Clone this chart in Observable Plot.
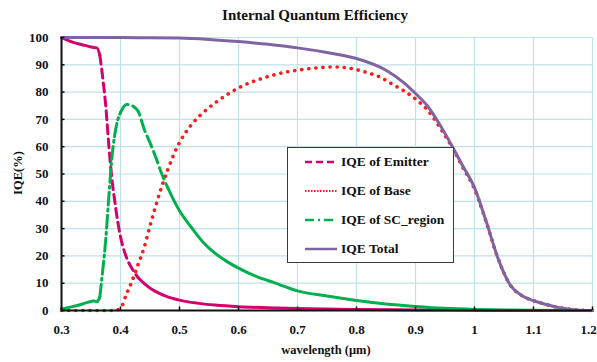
<!DOCTYPE html>
<html>
<head>
<meta charset="utf-8">
<script src="https://cdn.jsdelivr.net/npm/d3@7"></script>
<script src="https://cdn.jsdelivr.net/npm/@observablehq/plot@0.6"></script>
<style>
  html, body { margin: 0; padding: 0; background: #fff; }
  #wrap { position: relative; width: 597px; height: 362px; font-family: "Liberation Serif", "Times New Roman", serif; font-weight: bold; color: #111; }
  .lbl { position: absolute; white-space: nowrap; }
  #legend { position: absolute; background: #fff; border: 1px solid #3a3a3a; box-sizing: border-box; }
  .row { position: absolute; left: 0; display: flex; align-items: center; }
</style>
</head>
<body>
<div id="wrap"></div>
<script>
// ---- data ----
const titleText = "Internal Quantum Efficiency";
const xLabel = "wavelength (μm)";
const yLabel = "IQE(%)";
const xTicks = [0.3, 0.4, 0.5, 0.6, 0.7, 0.8, 0.9, 1.0, 1.1, 1.2];
const xTickLabels = ["0.3", "0.4", "0.5", "0.6", "0.7", "0.8", "0.9", "1", "1.1", "1.2"];
const yTicks = [0, 10, 20, 30, 40, 50, 60, 70, 80, 90, 100];

const seriesNames = ["IQE of Emitter", "IQE of Base", "IQE of SC_region", "IQE Total"];

const emitterX = [0.30,0.31,0.32,0.33,0.34,0.35,0.355,0.36,0.365,0.37,0.375,0.38,0.385,0.39,0.395,0.40,0.41,0.42,0.43,0.44,0.45,0.46,0.48,0.50,0.53,0.56,0.60,0.65,0.70,0.80,0.90,1.00,1.10,1.20];
const emitterY = [100,99,98.2,97.6,97.1,96.5,96.3,96.2,93.5,85,75,61,49,40.5,33,27,19.5,15.2,12,9.9,8.2,6.9,5,3.8,2.7,2,1.4,1,0.7,0.4,0.2,0.1,0,0];

const baseX = [0.30,0.35,0.39,0.40,0.41,0.42,0.43,0.44,0.45,0.46,0.47,0.48,0.49,0.50,0.52,0.54,0.56,0.58,0.60,0.62,0.64,0.66,0.68,0.70,0.72,0.74,0.76,0.78,0.80,0.82,0.84,0.86,0.88,0.90,0.92,0.94,0.96,0.98,1.00,1.02,1.04,1.06,1.08,1.10,1.12,1.14,1.16,1.18,1.20];
const baseY = [0,0,0,0.8,6,11,17,23,31,38.5,45.5,51.5,57,61.5,68,72.5,76,79,81.5,83.5,85,86.3,87.3,88,88.6,89,89.2,89,88.2,87,85.5,83,80.5,77.5,73.5,67.5,60.5,52.5,44.5,32.3,19,9.5,5.5,3.6,2.3,1.2,0.5,0.1,0];

const scX = [0.30,0.31,0.32,0.33,0.34,0.35,0.355,0.36,0.365,0.37,0.375,0.38,0.385,0.39,0.395,0.40,0.405,0.41,0.415,0.42,0.43,0.44,0.45,0.46,0.47,0.48,0.49,0.50,0.52,0.54,0.56,0.58,0.60,0.63,0.66,0.70,0.75,0.80,0.85,0.90,0.95,1.00,1.05,1.10,1.20];
const scY = [0.5,1,1.5,2,2.7,3.3,3.5,3.2,5,15,26,41,55,64,69.5,72.5,74.5,75.5,75.5,75,73,66.5,61.5,56,50,45,40.5,36.5,30.5,25,21,18,15.5,12.5,10.2,7.2,5.3,3.7,2.4,1.5,0.8,0.4,0.2,0.1,0];

const totalX = [0.30,0.35,0.40,0.45,0.50,0.55,0.60,0.65,0.70,0.75,0.80,0.85,0.88,0.90,0.92,0.94,0.96,0.98,1.00,1.02,1.04,1.06,1.08,1.10,1.12,1.14,1.16,1.18,1.20];
const totalY = [100,100,100,99.9,99.8,99.3,98.5,97.5,96.2,94.5,92.3,88,83.5,79.5,75,68.5,61,53,45,32.5,19,9.5,5.5,3.6,2.3,1.2,0.5,0.1,0];

const colors = ["#d4006e", "#ff1a1a", "#00b04f", "#8064a2"];

// wavelength ranges where the reference shows the line broken (dashed); elsewhere it reads as solid
const emitterDashed = [0.365, 0.43];
const scDashDot = [0.365, 0.40];
const scDashed = [0.40, 0.48];

// ---- build tables ----
const mk = (xs, ys) => xs.map((x, i) => ({x, y: ys[i]}));
const emitter = mk(emitterX, emitterY);
const base = mk(baseX, baseY);
const sc = mk(scX, scY);
const total = mk(totalX, totalY);
const inR = (d, a, b) => d.x >= a - 1e-9 && d.x <= b + 1e-9;

const W = 597, H = 362;
const mL = 61, mR = 5, mT = 37, mB = 52;

const styles = [
  {stroke: colors[0], strokeWidth: 3, strokeDasharray: "9,5"},
  {stroke: colors[1], strokeWidth: 3.6, strokeDasharray: "0.1,7", strokeLinecap: "round"},
  {stroke: colors[2], strokeWidth: 3, strokeDasharray: "13,4,2,4"},
  {stroke: colors[3], strokeWidth: 3}
];
const lineOpts = {x: "x", y: "y", curve: "monotone-x"};

const chart = Plot.plot({
  width: W, height: H,
  marginLeft: mL, marginRight: mR, marginTop: mT, marginBottom: mB,
  style: {fontFamily: '"Liberation Serif", "Times New Roman", serif', fontWeight: "bold", fontSize: "13px", color: "#111", background: "white", overflow: "visible"},
  x: {domain: [0.3, 1.2]},
  y: {domain: [0, 100]},
  marks: [
    Plot.gridX(xTicks, {stroke: "#bfe1ea", strokeOpacity: 1, strokeWidth: 1.2}),
    Plot.gridY(yTicks, {stroke: "#bfe1ea", strokeOpacity: 1, strokeWidth: 1.2}),
    Plot.axisX(xTicks.slice(0, -1), {tickSize: 0, tickPadding: 14, label: null, tickFormat: d => xTickLabels[xTicks.indexOf(d)], fontSize: 13, fill: "#111"}),
    Plot.axisX(xTicks.slice(-1), {tickSize: 0, tickPadding: 14, label: null, tickFormat: d => xTickLabels[xTicks.indexOf(d)], fontSize: 13, fill: "#111", dx: -4}),
    Plot.axisY(yTicks, {tickSize: 0, tickPadding: 13, label: null, fontSize: 13, fill: "#111"}),
    // emitter: solid - dashed - solid
    Plot.line(emitter.filter(d => d.x <= emitterDashed[0] + 1e-9), {...lineOpts, stroke: colors[0], strokeWidth: 3}),
    Plot.line(emitter.filter(d => inR(d, ...emitterDashed)), {...lineOpts, ...styles[0]}),
    Plot.line(emitter.filter(d => d.x >= emitterDashed[1] - 1e-9), {...lineOpts, stroke: colors[0], strokeWidth: 3}),
    // base: dotted
    Plot.line(base, {...lineOpts, ...styles[1]}),
    // SC region: solid - dash-dot - dashed - solid
    Plot.line(sc.filter(d => d.x <= scDashDot[0] + 1e-9), {...lineOpts, stroke: colors[2], strokeWidth: 3}),
    Plot.line(sc.filter(d => inR(d, ...scDashDot)), {...lineOpts, ...styles[2]}),
    Plot.line(sc.filter(d => inR(d, ...scDashed)), {...lineOpts, stroke: colors[2], strokeWidth: 3, strokeDasharray: "12,5"}),
    Plot.line(sc.filter(d => d.x >= scDashed[1] - 1e-9), {...lineOpts, stroke: colors[2], strokeWidth: 3}),
    // total
    Plot.line(total, {...lineOpts, ...styles[3]}),
    Plot.ruleX([0.3], {stroke: "#111", strokeWidth: 2}),
    Plot.ruleY([0], {stroke: "#111", strokeWidth: 2}),
    Plot.ruleX(xTicks, {y1: 0, y2: 1.3, stroke: "#111", strokeWidth: 1.5}),
    Plot.ruleY(yTicks, {x1: 0.3, x2: 0.306, stroke: "#111", strokeWidth: 1.5})
  ]
});

const wrap = document.getElementById("wrap");
wrap.appendChild(chart);
chart.style.position = "absolute";
chart.style.left = "0px";
chart.style.top = "0px";

function addLabel(text, css) {
  const d = document.createElement("div");
  d.className = "lbl";
  d.textContent = text;
  Object.assign(d.style, css);
  wrap.appendChild(d);
  return d;
}
addLabel(titleText, {left: "315px", top: "7px", transform: "translateX(-50%)", fontSize: "15px"});
addLabel(xLabel, {left: "326px", top: "343px", transform: "translateX(-50%)", fontSize: "12.5px"});
addLabel(yLabel, {left: "18px", top: "173px", transform: "translate(-50%,-50%) rotate(-90deg)", fontSize: "12.5px"});

// legend
const leg = document.createElement("div");
leg.id = "legend";
Object.assign(leg.style, {left: "287px", top: "147px", width: "167px", height: "116px"});
wrap.appendChild(leg);
const rowY = [14, 43, 72, 101];
seriesNames.forEach((name, i) => {
  const r = document.createElement("div");
  r.className = "row";
  r.style.top = (rowY[i] - 10) + "px";
  r.style.left = "16px";
  r.style.height = "20px";
  const s = styles[i];
  const ns = "http://www.w3.org/2000/svg";
  const sv = document.createElementNS(ns, "svg");
  sv.setAttribute("width", "36");
  sv.setAttribute("height", "20");
  const ln = document.createElementNS(ns, "line");
  ln.setAttribute("x1", "1"); ln.setAttribute("x2", "33");
  ln.setAttribute("y1", "10"); ln.setAttribute("y2", "10");
  ln.setAttribute("stroke", s.stroke);
  ln.setAttribute("stroke-width", i === 1 ? 2 : 2.5);
  if (i === 0) ln.setAttribute("stroke-dasharray", "7,4");
  if (i === 1) { ln.setAttribute("stroke-dasharray", "1.5,1.5"); }
  if (i === 2) ln.setAttribute("stroke-dasharray", "9,4,2,4");
  sv.appendChild(ln);
  r.appendChild(sv);
  const t = document.createElement("span");
  t.textContent = name;
  t.style.fontSize = "13.5px";
  t.style.marginLeft = "1px";
  r.appendChild(t);
  leg.appendChild(r);
});
</script>
</body>
</html>
